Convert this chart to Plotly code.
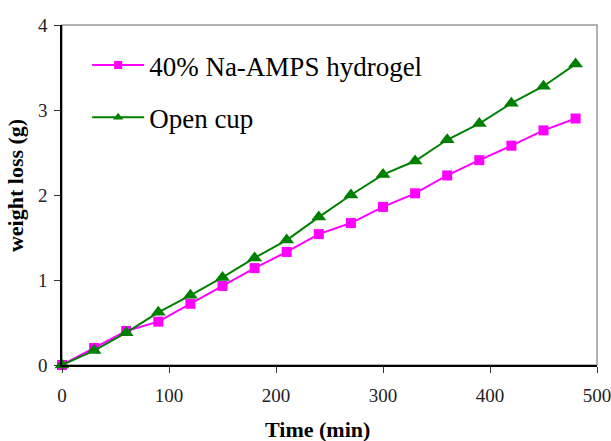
import plotly.graph_objects as go

time_min = [0, 30, 60, 90, 120, 150, 180, 210, 240, 270, 300, 330, 360, 390, 420, 450, 480]
hydrogel = [0, 0.20, 0.40, 0.51, 0.72, 0.93, 1.14, 1.33, 1.54, 1.67, 1.86, 2.02, 2.23, 2.41, 2.58, 2.76, 2.90]
open_cup = [0, 0.17, 0.38, 0.62, 0.82, 1.03, 1.26, 1.47, 1.74, 2.00, 2.24, 2.40, 2.65, 2.84, 3.08, 3.28, 3.54]

series_names = ["40% Na-AMPS hydrogel", "Open cup"]
x_ticks = [0, 100, 200, 300, 400, 500]
y_ticks = [0, 1, 2, 3, 4]
x_title = "Time (min)"
y_title = "weight loss (g)"

font_family = "Liberation Serif, Times New Roman, serif"
pink = "#FF00FF"
green = "#008000"

fig = go.Figure()
fig.add_trace(go.Scatter(
    x=time_min, y=hydrogel, mode="lines+markers", name=series_names[0],
    line=dict(color=pink, width=2),
    marker=dict(symbol="square", size=10, color=pink),
    showlegend=False, cliponaxis=False,
))
fig.add_trace(go.Scatter(
    x=time_min, y=open_cup, mode="lines+markers", name=series_names[1],
    line=dict(color=green, width=2),
    marker=dict(symbol="triangle-up", size=13, color=green),
    showlegend=False, cliponaxis=False,
))
# legend entries (smaller markers, as in the reference legend)
fig.add_trace(go.Scatter(
    x=[None], y=[None], mode="lines+markers", name=series_names[0],
    line=dict(color=pink, width=2), marker=dict(symbol="square", size=8, color=pink),
    legendgroup="a",
))
fig.add_trace(go.Scatter(
    x=[None], y=[None], mode="lines+markers", name=series_names[1],
    line=dict(color=green, width=2), marker=dict(symbol="triangle-up", size=9, color=green),
    legendgroup="b",
))

fig.add_shape(type="rect", xref="paper", yref="paper", x0=0, y0=0, x1=1, y1=1,
              line=dict(color="#999999", width=1.5), layer="below")

fig.add_annotation(text="<b>" + x_title + "</b>", xref="paper", yref="paper",
                   x=0.477, y=-0.19, xanchor="center", yanchor="middle", showarrow=False,
                   font=dict(size=22, family=font_family, color="black"))
fig.add_annotation(text="<b>" + y_title + "</b>", xref="paper", yref="paper",
                   x=-0.088, y=0.529, xanchor="center", yanchor="middle", showarrow=False,
                   textangle=-90,
                   font=dict(size=22, family=font_family, color="black"))

fig.update_layout(
    width=611, height=441,
    margin=dict(l=62, r=14, t=25, b=76),
    paper_bgcolor="white", plot_bgcolor="white",
    font=dict(family=font_family, color="black"),
    showlegend=True,
    legend=dict(
        x=0.047, y=0.953, xanchor="left", yanchor="top",
        font=dict(size=27, family=font_family, color="black"),
        bgcolor="rgba(0,0,0,0)", traceorder="grouped", tracegroupgap=14,
        itemwidth=52,
    ),
    xaxis=dict(
        range=[0, 500], tickvals=x_ticks, ticks="outside", ticklen=6, tickcolor="#333333",
        showline=True, linecolor="black", linewidth=1.5, showgrid=False, zeroline=False,
        automargin=False, ticklabeloverflow="allow", ticklabelstandoff=6,
        tickfont=dict(size=19, family=font_family, color="#222222"),
    ),
    yaxis=dict(
        range=[0, 4], tickvals=y_ticks, ticks="outside", ticklen=6, tickcolor="#333333",
        showline=True, linecolor="black", linewidth=1.5, showgrid=False, zeroline=False,
        automargin=False, ticklabelstandoff=3,
        tickfont=dict(size=19, family=font_family, color="#222222"),
    ),
)

fig.write_html(
    "out.html",
    config={"displayModeBar": False},
    post_script="document.body.style.margin='0';document.body.style.overflow='hidden';",
)
